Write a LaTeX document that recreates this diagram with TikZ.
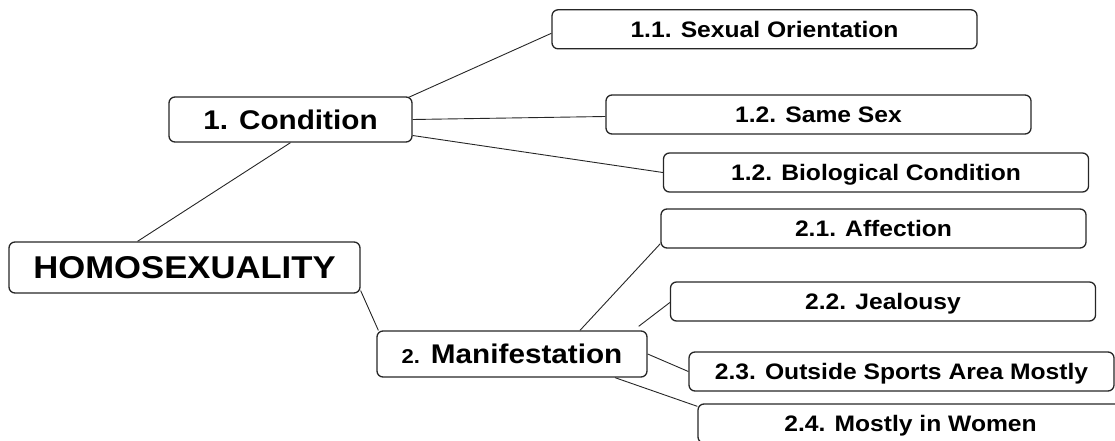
\documentclass[tikz,border=0pt]{standalone}
\usepackage{fontspec}
\usepackage{tikz}
\usetikzlibrary{arrows}
\usetikzlibrary{arrows.meta}

\newfontfamily\mapfont{Liberation Sans}[FakeStretch=1.1]

\begin{document}
\begin{tikzpicture}[x=1pt, y=-1pt,
    topic/.style = {rectangle, rounded corners=6pt, draw=black!85, line width=1.3pt,
                   minimum width=351pt, minimum height=51pt, inner sep=0pt,
                   text centered, text height=22.5pt, text depth=0pt,
                   font=\mapfont\bfseries\fontsize{31.5}{36}\selectfont},
    branch/.style = {topic, minimum width=243pt, minimum height=45pt,
                   text height=19.3pt, font=\mapfont\bfseries\fontsize{27}{32}\selectfont},
    leaf/.style = {topic, minimum width=425pt, minimum height=39pt,
                   text height=16pt, font=\mapfont\bfseries\fontsize{22.4}{27}\selectfont},
    link/.style = {line width=0.9pt, draw=black!85}]
  \useasboundingbox (0,0) rectangle (1115,441);

  \node (homo) [topic] at (184.5,267.5) {HOMOSEXUALITY};
  \node (cond) [branch] at (290.5,119.5) {1. Condition};
  \node (mani) [branch, minimum width=270pt, minimum height=46pt] at (512,354)
        {{\fontsize{20}{24}\selectfont 2.} Manifestation};

  \node (orient) [leaf] at (764.5,29.3) {1.1. Sexual Orientation};
  \node (same) [leaf] at (818.5,114.5) {1.2. Same Sex};
  \node (bio) [leaf] at (876,172.5) {1.2. Biological Condition};

  \node (affect) [leaf] at (873.5,228.5) {2.1. Affection};
  \node (jealous) [leaf] at (883,301.5) {2.2. Jealousy};
  \node (sports) [leaf] at (901.5,371.5) {2.3. Outside Sports Area Mostly};
  \node (women) [leaf] at (910.5,423.5) {2.4. Mostly in Women};

  \path[link]
    ([xshift=-47pt]homo.north) edge (cond.south)
    ([yshift=3pt]homo.south east) edge ([xshift=2pt]mani.north west);

  \path[link]
    ([xshift=-4pt,yshift=-1pt]cond.north east) edge ([yshift=-4pt]orient.west)
    (cond.east) edge ([yshift=-2pt]same.west)
    ([yshift=-16pt]cond.east) edge (bio.west);

  \path[link]
    ([xshift=68pt]mani.north) edge ([yshift=5pt]affect.south west)
    ([xshift=-9pt,yshift=4pt]mani.north east) edge ([yshift=-1pt]jealous.west)
    (mani.east) edge (sports.west)
    ([xshift=103pt]mani.south) edge ([yshift=-3pt]women.north west);
\end{tikzpicture}
\end{document}
